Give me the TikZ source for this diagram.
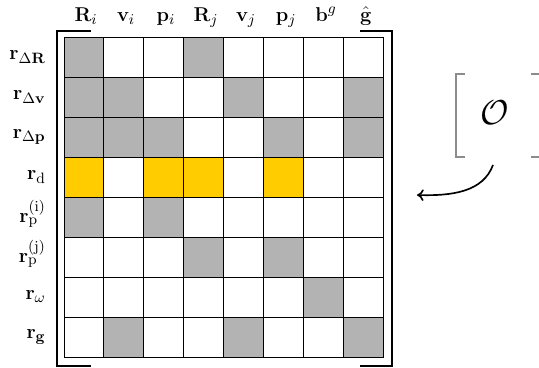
\documentclass[tikz,border=0pt]{standalone}
\usepackage{amsmath}
\usetikzlibrary{arrows.meta}
\definecolor{cellgray}{HTML}{B3B3B3}
\definecolor{cellyellow}{HTML}{FFCC00}
\definecolor{brgray}{HTML}{8C8C8C}
\tikzset{
  cell/.style={draw=black, line width=0.6pt, minimum size=24pt, inner sep=0pt, outer sep=0pt},
  labfont/.style={font=\fontsize{13}{15}\selectfont},
  rowlab/.style={labfont, anchor=east, inner sep=0pt},
  collab/.style={labfont, anchor=base, inner sep=0pt},
  bracket/.style={line width=0.8pt, black},
  obracket/.style={line width=0.8pt, brgray},
}
\begin{document}
\begin{tikzpicture}[x=0.6pt, y=-0.6pt]
\useasboundingbox (0,0) rectangle (539,368);

% grid of cells: entry (row, column)
\foreach \r in {0,...,7}{
  \foreach \c in {0,...,7}{
    \node[cell] (c-\r-\c) at ({84+40*\c},{57+40*\r}) {};
  }
}
% gray blocks
\foreach \r/\c in {0/0,0/3, 1/0,1/1,1/4,1/7, 2/0,2/1,2/2,2/5,2/7,
                   4/0,4/2, 5/3,5/5, 6/6, 7/1,7/4,7/7}{
  \node[cell, fill=cellgray] at (c-\r-\c) {};
}
% yellow blocks
\foreach \c in {0,2,3,5}{
  \node[cell, fill=cellyellow] at (c-3-\c) {};
}

% column labels
\foreach \c/\t in {0/{\mathbf{R}_i},1/{\mathbf{v}_i},2/{\mathbf{p}_i},3/{\mathbf{R}_j},
                   4/{\mathbf{v}_j},5/{\mathbf{p}_j},6/{\mathbf{b}^g},7/{\hat{\mathbf{g}}}}{
  \node[collab] (col-\c) at ({86+40*\c},21) {$\t$};
}

% row labels
\node[rowlab] (row-0) at (46,57)  {$\mathbf{r}_{\Delta\mathbf{R}}$};
\node[rowlab] (row-1) at (46,97)  {$\mathbf{r}_{\Delta\mathbf{v}}$};
\node[rowlab] (row-2) at (46,137) {$\mathbf{r}_{\Delta\mathbf{p}}$};
\node[rowlab] (row-3) at (46,177) {$\mathbf{r}_{\mathrm{d}}$};
\node[rowlab] (row-4) at (46,214) {$\mathbf{r}_{\mathrm{p}}^{(\mathrm{i})}$};
\node[rowlab] (row-5) at (46,254) {$\mathbf{r}_{\mathrm{p}}^{(\mathrm{j})}$};
\node[rowlab] (row-6) at (46,297) {$\mathbf{r}_{\omega}$};
\node[rowlab] (row-7) at (46,337) {$\mathbf{r}_{\mathbf{g}}$};

% matrix brackets
\draw[bracket] (91,31) -- (57,31) -- (57,366) -- (91,366);
\draw[bracket] (360,31) -- (392,31) -- (392,366) -- (360,366);

% observation operator
\node (O) at (495,113) {\huge$\mathcal{O}$};
\draw[obracket] (465,74) -- (456,74) -- (456,157) -- (465,157);
\draw[obracket] (531,74) -- (540,74);
\draw[obracket] (531,157) -- (540,157);

% arrow from the operator back to the matrix
\coordinate (tail) at (493,165);
\coordinate (head) at (417,195);
\draw[line width=1pt, -{To[length=4pt,width=7pt]}] (tail) .. controls (483,192) and (452,196) .. (head);
\end{tikzpicture}
\end{document}
